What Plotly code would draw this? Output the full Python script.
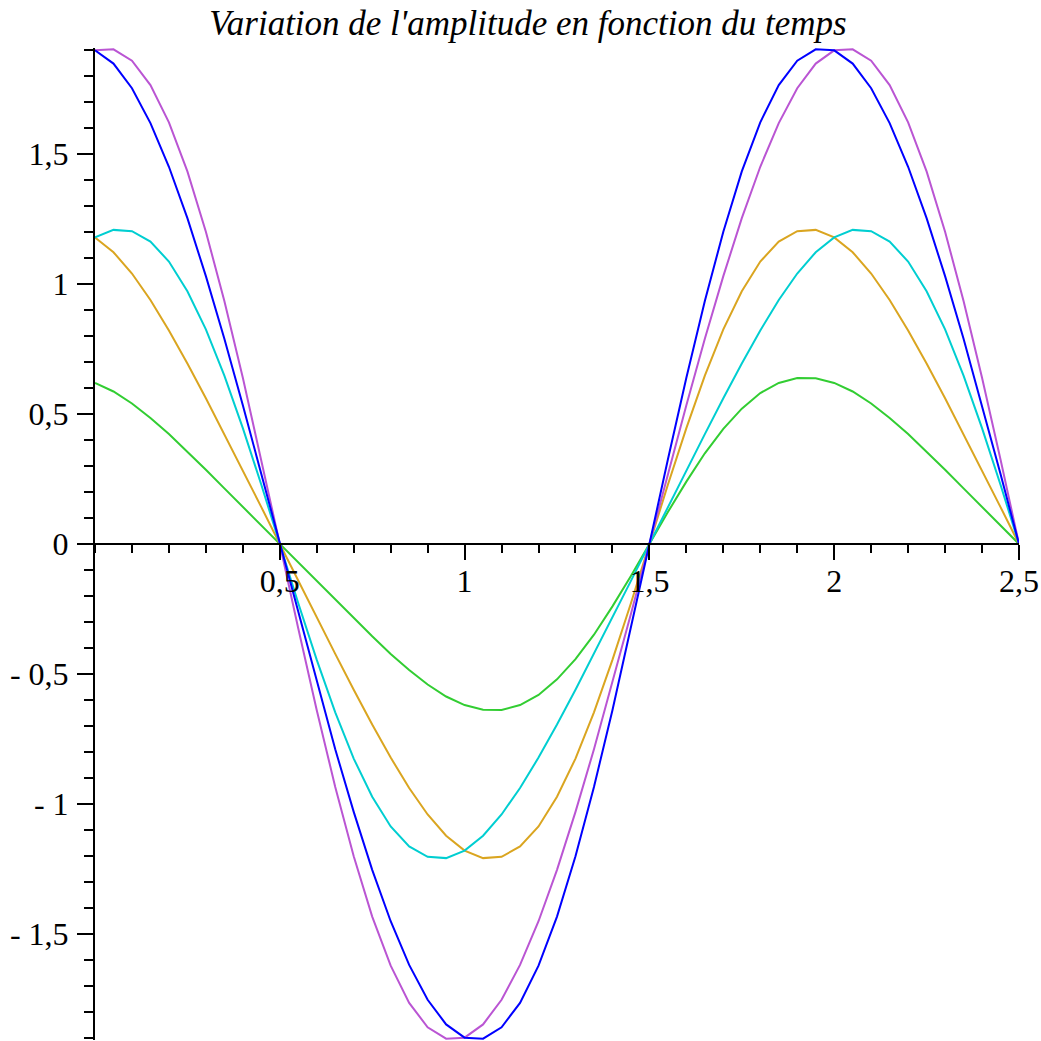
import plotly.graph_objects as go

# Time axis (s), step 0.05
x = [0.0, 0.05, 0.1, 0.15, 0.2, 0.25, 0.3, 0.35, 0.4, 0.45,
     0.5, 0.55, 0.6, 0.65, 0.7, 0.75, 0.8, 0.85, 0.9, 0.95,
     1.0, 1.05, 1.1, 1.15, 1.2, 1.25, 1.3, 1.35, 1.4, 1.45,
     1.5, 1.55, 1.6, 1.65, 1.7, 1.75, 1.8, 1.85, 1.9, 1.95,
     2.0, 2.05, 2.1, 2.15, 2.2, 2.25, 2.3, 2.35, 2.4, 2.45, 2.5]

# Amplitude curves
blue = [1.90, 1.849, 1.754, 1.620, 1.452, 1.254, 1.031, 0.790, 0.534, 0.269,
        0.0, -0.269, -0.534, -0.790, -1.031, -1.254, -1.452, -1.620, -1.754, -1.849,
        -1.90, -1.904, -1.860, -1.766, -1.623, -1.434, -1.202, -0.935, -0.640, -0.325,
        0.0, 0.325, 0.640, 0.935, 1.202, 1.434, 1.623, 1.766, 1.860, 1.904,
        1.90, 1.849, 1.754, 1.620, 1.452, 1.254, 1.031, 0.790, 0.534, 0.269, 0.0]
magenta = [1.90, 1.904, 1.860, 1.766, 1.623, 1.434, 1.202, 0.935, 0.640, 0.325,
           0.0, -0.325, -0.640, -0.935, -1.202, -1.434, -1.623, -1.766, -1.860, -1.904,
           -1.90, -1.849, -1.754, -1.620, -1.452, -1.254, -1.031, -0.790, -0.534, -0.269,
           0.0, 0.269, 0.534, 0.790, 1.031, 1.254, 1.452, 1.620, 1.754, 1.849,
           1.90, 1.904, 1.860, 1.766, 1.623, 1.434, 1.202, 0.935, 0.640, 0.325, 0.0]
cyan = [1.18, 1.209, 1.204, 1.164, 1.087, 0.973, 0.826, 0.648, 0.446, 0.228,
        0.0, -0.228, -0.446, -0.648, -0.826, -0.973, -1.087, -1.164, -1.204, -1.209,
        -1.18, -1.123, -1.041, -0.939, -0.822, -0.695, -0.561, -0.423, -0.283, -0.142,
        0.0, 0.142, 0.283, 0.423, 0.561, 0.695, 0.822, 0.939, 1.041, 1.123,
        1.18, 1.209, 1.204, 1.164, 1.087, 0.973, 0.826, 0.648, 0.446, 0.228, 0.0]
orange = [1.18, 1.123, 1.041, 0.939, 0.822, 0.695, 0.561, 0.423, 0.283, 0.142,
          0.0, -0.142, -0.283, -0.423, -0.561, -0.695, -0.822, -0.939, -1.041, -1.123,
          -1.18, -1.209, -1.204, -1.164, -1.087, -0.973, -0.826, -0.648, -0.446, -0.228,
          0.0, 0.228, 0.446, 0.648, 0.826, 0.973, 1.087, 1.164, 1.204, 1.209,
          1.18, 1.123, 1.041, 0.939, 0.822, 0.695, 0.561, 0.423, 0.283, 0.142, 0.0]
green = [0.62, 0.587, 0.541, 0.485, 0.423, 0.355, 0.286, 0.214, 0.143, 0.071,
         0.0, -0.071, -0.143, -0.214, -0.286, -0.355, -0.423, -0.485, -0.541, -0.587,
         -0.62, -0.638, -0.639, -0.620, -0.581, -0.521, -0.443, -0.349, -0.240, -0.123,
         0.0, 0.123, 0.240, 0.349, 0.443, 0.521, 0.581, 0.620, 0.639, 0.638,
         0.62, 0.587, 0.541, 0.485, 0.423, 0.355, 0.286, 0.214, 0.143, 0.071, 0.0]

series = [
    ("green", green, "#32CD32"),
    ("orange", orange, "#DAA520"),
    ("cyan", cyan, "#00CED1"),
    ("magenta", magenta, "#BA55D3"),
    ("blue", blue, "#0000FF"),
]

xtick_vals = [0.5, 1, 1.5, 2, 2.5]
xtick_text = ["0,5", "1", "1,5", "2", "2,5"]
ytick_vals = [-1.5, -1, -0.5, 0, 0.5, 1, 1.5]
ytick_text = ["- 1,5", "- 1", "- 0,5", "0", "0,5", "1", "1,5"]

title_text = "Variation de l'amplitude en fonction du temps"

fig = go.Figure()
for name, ys, col in series:
    fig.add_trace(go.Scatter(x=x, y=ys, mode="lines", name=name,
                             line=dict(color=col, width=2),
                             hoverinfo="skip"))

font_family = "Liberation Serif"

fig.update_layout(
    width=1041, height=1041,
    margin=dict(l=95, r=22, t=48, b=1, autoexpand=False),
    paper_bgcolor="white", plot_bgcolor="white",
    showlegend=False,
    title=dict(text="<i>" + title_text + "</i>",
               font=dict(family=font_family, size=35, color="black"),
               x=528 / 1041, xanchor="center", xref="container",
               y=1 - 10 / 1041, yanchor="top", yref="container"),
    xaxis=dict(
        range=[0, 2.5], anchor="free", position=0.5,
        showgrid=False, zeroline=False,
        showline=True, linecolor="black", linewidth=2,
        ticks="outside", ticklen=15, tickwidth=2, tickcolor="black",
        tickmode="array", tickvals=xtick_vals, ticktext=xtick_text,
        tickfont=dict(family=font_family, size=32, color="black"),
        ticklabelstandoff=-6,
        minor=dict(dtick=0.1, tick0=0, ticks="outside", ticklen=8,
                   tickwidth=2, tickcolor="black", showgrid=False),
        automargin=False,
    ),
    yaxis=dict(
        range=[-1.909, 1.909], anchor="x", side="left",
        showgrid=False, zeroline=False,
        showline=True, linecolor="black", linewidth=2,
        ticks="outside", ticklen=16, tickwidth=2, tickcolor="black",
        tickmode="array", tickvals=ytick_vals, ticktext=ytick_text,
        tickfont=dict(family=font_family, size=32, color="black"),
        ticklabelstandoff=2,
        minor=dict(dtick=0.1, tick0=0, ticks="outside", ticklen=9,
                   tickwidth=2, tickcolor="black", showgrid=False),
        automargin=False,
    ),
)

fig.write_html("out.html")
